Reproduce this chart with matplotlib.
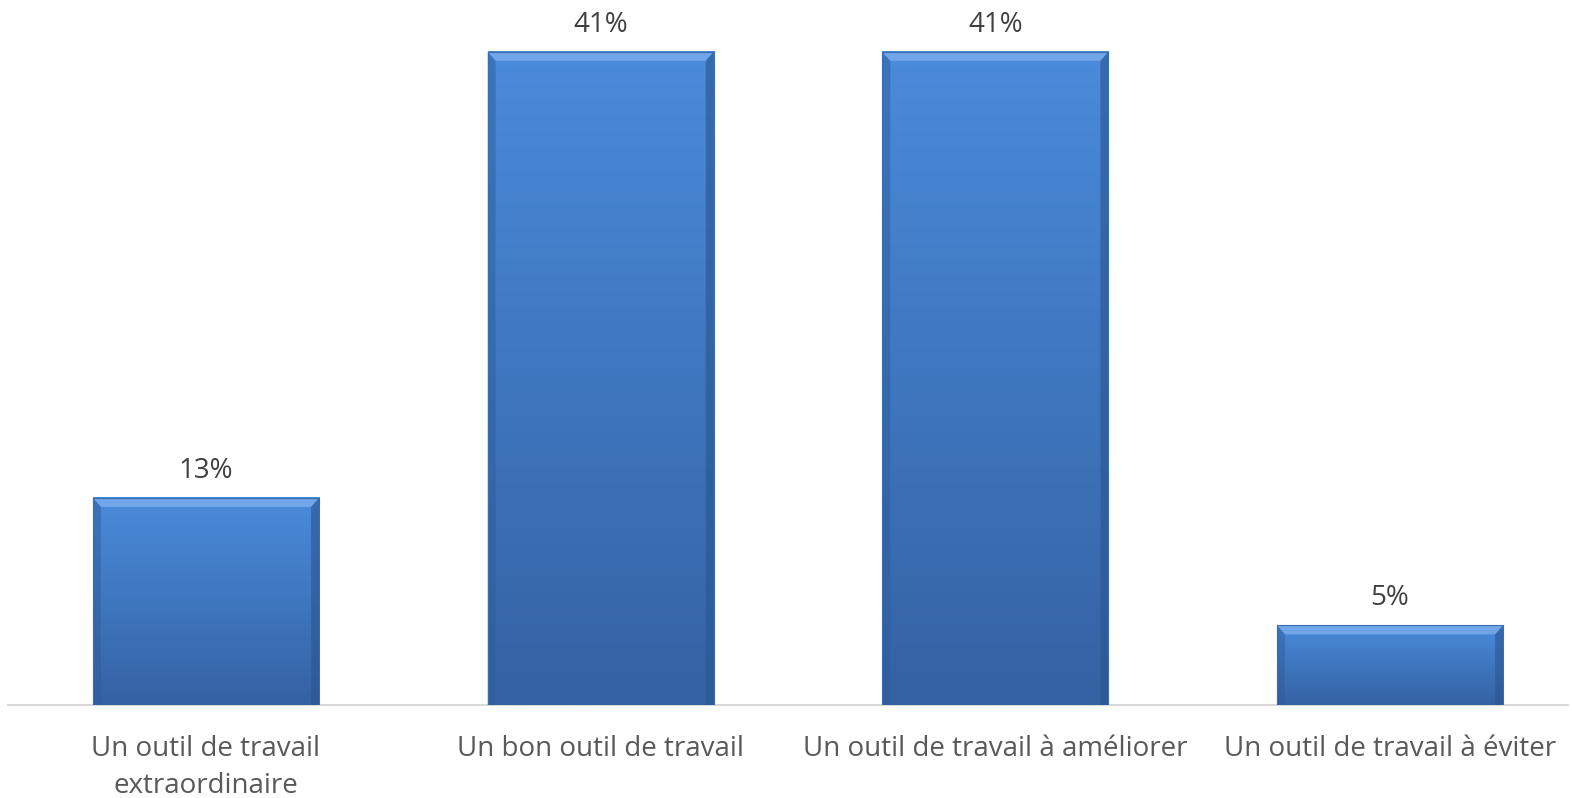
import numpy as np
import matplotlib
matplotlib.use("Agg")
import matplotlib.pyplot as plt
from matplotlib.patches import Polygon

# data
categories = ["Un outil de travail\nextraordinaire", "Un bon outil de travail",
              "Un outil de travail à améliorer", "Un outil de travail à éviter"]
values = [13, 41, 41, 5]
value_labels = ["13%", "41%", "41%", "5%"]

W, H = 1572, 798
fig = plt.figure(figsize=(W / 100, H / 100), dpi=100)
# axes placed in pixels: baseline at y=705, x from 8 to 1568
ax = fig.add_axes([8 / W, 93 / H, 1560 / W, 705 / H])

px_x = 394.67
xmin = (8 - 206) / px_x
xmax = (1568 - 206) / px_x
px_y = 15.93
ax.set_xlim(xmin, xmax)
ax.set_ylim(0, 705 / px_y)
ax.axis("off")

bar_w = 0.573
top_c = np.array([0x4a, 0x8b, 0xdb]) / 255
bot_c = np.array([0x34, 0x62, 0xa3]) / 255
grad = np.linspace(0, 1, 256)[:, None, None]
img = top_c * (1 - grad) + bot_c * grad

bev_x = 8 / px_x
bev_y = 9 / px_y

for i, v in enumerate(values):
    x0, x1 = i - bar_w / 2, i + bar_w / 2
    ax.imshow(img, extent=[x0, x1, 0, v], aspect="auto", zorder=2)
    # bevel strips
    top = Polygon([[x0, v], [x1, v], [x1 - bev_x, v - bev_y], [x0 + bev_x, v - bev_y]],
                  closed=True, facecolor="#7fb0ee", edgecolor="none", alpha=0.75, zorder=3)
    left = Polygon([[x0, v], [x0 + bev_x, v - bev_y], [x0 + bev_x, 0], [x0, 0]],
                   closed=True, facecolor="#2c5a98", edgecolor="none", alpha=0.45, zorder=3)
    right = Polygon([[x1, v], [x1 - bev_x, v - bev_y], [x1 - bev_x, 0], [x1, 0]],
                    closed=True, facecolor="#2a5590", edgecolor="none", alpha=0.6, zorder=3)
    for p in (top, left, right):
        ax.add_patch(p)
    ax.plot([x0, x1, x1, x0, x0], [0, 0, v, v, 0], color="#3a6cb0", lw=0.8, zorder=4)
    ax.text(i, v + 27 / px_y, value_labels[i], ha="center", va="center",
            fontsize=20, color="#404040", family="Open Sans")
    ax.text(i, -30 / px_y, categories[i], ha="center", va="top", fontsize=20,
            color="#595959", family="Open Sans", linespacing=1.45, clip_on=False)

ax.plot([xmin, xmax], [0, 0], color="#d9d9d9", lw=1.5, zorder=1, clip_on=False)

fig.savefig("out.png", dpi=100)
